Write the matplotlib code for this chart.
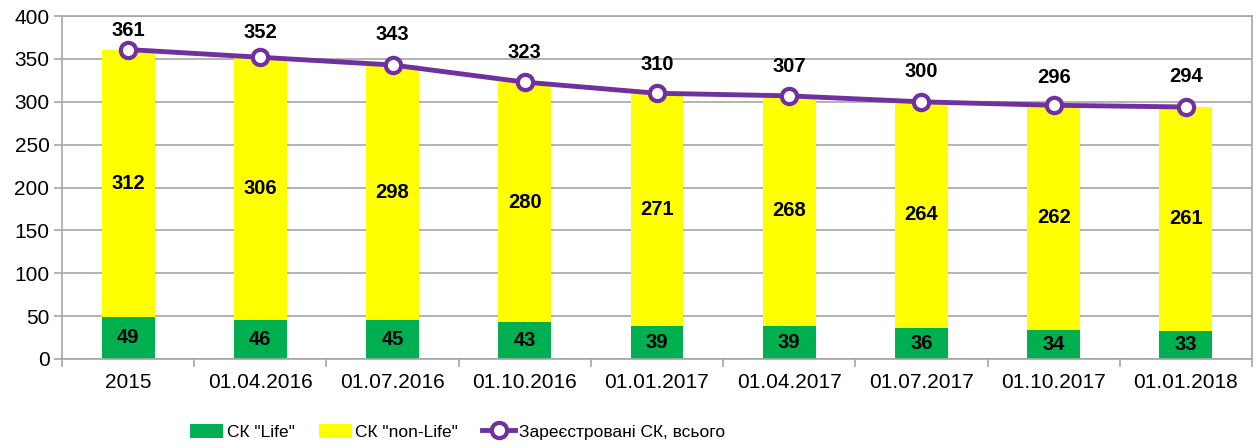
import numpy as np
import matplotlib.pyplot as plt

plt.rcParams['font.family'] = ['Liberation Sans', 'DejaVu Sans']

# ── data ──────────────────────────────────────────────
dates = ["2015", "01.04.2016", "01.07.2016", "01.10.2016", "01.01.2017",
         "01.04.2017", "01.07.2017", "01.10.2017", "01.01.2018"]
life = [49, 46, 45, 43, 39, 39, 36, 34, 33]
non_life = [312, 306, 298, 280, 271, 268, 264, 262, 261]
total = [361, 352, 343, 323, 310, 307, 300, 296, 294]

# how far (px) each total label sits above its marker
label_gap_px = [19, 25, 30, 30, 29, 29, 30, 28, 30]

GREEN = "#00B050"
YELLOW = "#FFFF00"
PURPLE = "#7030A0"
GRID = "#A6A6A6"

fig = plt.figure(figsize=(12.57, 4.48), dpi=100)
ax = fig.add_axes([0.0493, 0.1987, 0.9467, 0.7653])

x = np.arange(len(dates))
b1 = ax.bar(x, life, width=0.4, color=GREEN, label='СК "Life"', zorder=2)
b2 = ax.bar(x, non_life, width=0.4, bottom=life, color=YELLOW,
            label='СК "non-Life"', zorder=2)
ln, = ax.plot(x, total, color=PURPLE, lw=3.5, marker="o", ms=11, mfc="white",
              mec=PURPLE, mew=3, label="Зареєстровані СК, всього", zorder=3)

for i in range(len(dates)):
    ax.text(x[i], life[i] / 2, str(life[i]), ha="center", va="center",
            fontsize=14.5, fontweight="bold", zorder=4)
    ax.text(x[i], life[i] + non_life[i] / 2, str(non_life[i]), ha="center",
            va="center", fontsize=14.5, fontweight="bold", zorder=4)
    ax.annotate(str(total[i]), (x[i], total[i]),
                xytext=(0, label_gap_px[i] * 0.72),
                textcoords="offset points", ha="center", va="center",
                fontsize=14.5, fontweight="bold", zorder=4)

ax.set_xlim(-0.5, len(dates) - 0.5)
ax.set_ylim(0, 400)
ax.set_yticks(range(0, 401, 50))
ax.set_xticks(x)
ax.set_xticklabels(dates)
ax.set_xticks(np.arange(-0.5, len(dates), 1), minor=True)
ax.tick_params(axis="x", which="major", length=0, pad=10, labelsize=15)
ax.tick_params(axis="x", which="minor", length=6, color=GRID, width=1.2)
ax.tick_params(axis="y", length=6, color=GRID, width=1.2, labelsize=15, pad=3)
ax.grid(axis="y", color=GRID, lw=1.2, zorder=0)
ax.set_axisbelow(True)
for s in ax.spines.values():
    s.set_color(GRID)
    s.set_linewidth(1.2)

fig.legend(handles=[b1, b2, ln], loc="center", bbox_to_anchor=(0.364, 0.036),
           ncol=3, frameon=False, handlelength=1.9, fontsize=12.5,
           handleheight=0.9, columnspacing=1.4, handletextpad=0.2,
           borderaxespad=0, borderpad=0)

fig.savefig("out.png", dpi=100)
